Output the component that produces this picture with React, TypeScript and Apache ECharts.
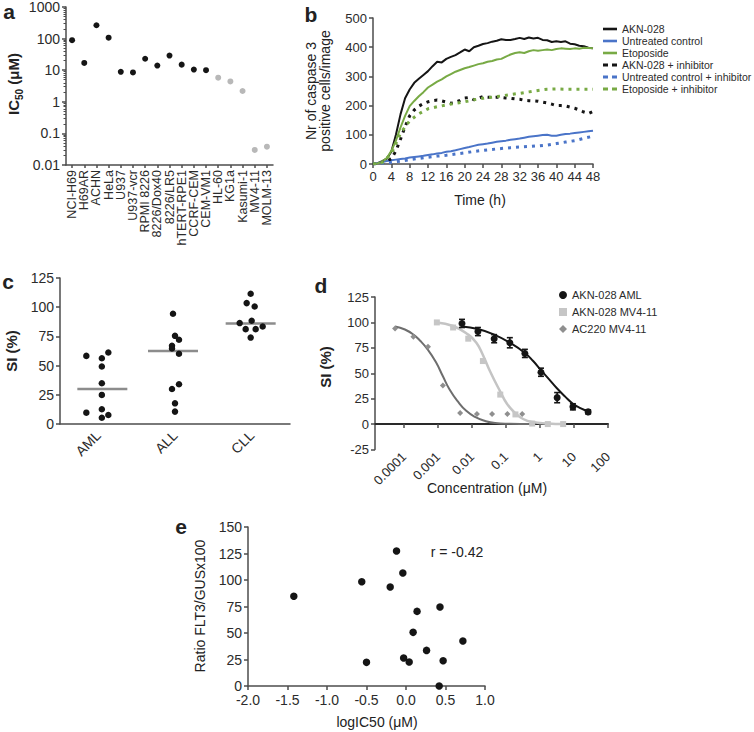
import { useEffect, useRef } from 'react';
import * as echarts from 'echarts';

// ---------- Panel a ----------
const aCells = ['NCI-H69', 'H69AR', 'ACHN', 'HeLa', 'U937', 'U937-vcr', 'RPMI 8226', '8226/Dox40', '8226/LR5', 'hTERT-RPE1', 'CCRF-CEM', 'CEM-VM1', 'HL-60', 'KG1a', 'Kasumi-1', 'MV4-11', 'MOLM-13'];
const aIC50 = [89, 17, 265, 107, 8.9, 8.5, 23, 14, 29, 15, 10.5, 10, 5.8, 4.4, 2.2, 0.03, 0.038];
const aAmlLines = ['HL-60', 'KG1a', 'Kasumi-1', 'MV4-11', 'MOLM-13'];
const aYTickValues = [0.01, 0.1, 1, 10, 100, 1000];
const aYTickLabels = ['0.01', '0.1', '1', '10', '100', '1000'];

// ---------- Panel b ----------
const bHours = [0, 1, 2, 3, 4, 5, 6, 7, 8, 9, 10, 11, 12, 13, 14, 15, 16, 17, 18, 19, 20, 21, 22, 23, 24, 25, 26, 27, 28, 29, 30, 31, 32, 33, 34, 35, 36, 37, 38, 39, 40, 41, 42, 43, 44, 45, 46, 47, 48];
const bHours2 = [0, 2, 4, 6, 8, 10, 12, 14, 16, 18, 20, 22, 24, 26, 28, 30, 32, 34, 36, 38, 40, 42, 44, 46, 48];
const bAkn = [0, 3, 10, 18, 42, 100, 170, 225, 255, 278, 292, 305, 318, 335, 350, 348, 360, 367, 373, 382, 392, 386, 400, 405, 411, 414, 419, 422, 427, 425, 425, 428, 432, 428, 433, 430, 432, 425, 424, 418, 420, 418, 420, 412, 410, 405, 403, 398, 396];
const bUntreated = [0, 3, 7, 10, 13, 15, 17, 19, 22, 24, 26, 28, 31, 33, 36, 38, 42, 44, 47, 51, 55, 58, 62, 66, 68, 70, 73, 76, 78, 80, 83, 85, 87, 90, 93, 95, 97, 99, 100, 97, 97, 100, 103, 104, 106, 108, 110, 112, 114];
const bEtoposide = [0, 2, 8, 20, 45, 80, 125, 165, 198, 216, 232, 246, 262, 272, 282, 290, 300, 308, 316, 322, 328, 332, 337, 342, 345, 350, 353, 358, 360, 368, 375, 380, 383, 380, 386, 390, 388, 390, 392, 390, 394, 396, 395, 394, 396, 395, 398, 397, 396];
const bAknInh = [0, 2, 5, 10, 18, 45, 85, 128, 165, 185, 198, 207, 213, 217, 219, 216, 212, 208, 211, 218, 226, 228, 220, 225, 231, 229, 228, 229, 228, 226, 225, 223, 222, 218, 217, 216, 215, 212, 209, 205, 200, 200, 199, 195, 191, 185, 178, 173, 180];
const bUntreatedInh = [0, 3, 6, 10, 15, 19, 23, 27, 30, 34, 38, 43, 47, 50, 53, 56, 58, 60, 62, 65, 70, 75, 80, 88, 95];
const bEtoposideInh = [0, 5, 35, 105, 148, 172, 189, 196, 202, 208, 213, 220, 225, 229, 233, 238, 242, 247, 252, 256, 257, 256, 256, 256, 256];
const bNames = ['AKN-028', 'Untreated control', 'Etoposide', 'AKN-028 + inhibitor', 'Untreated control + inhibitor', 'Etoposide + inhibitor'];

// ---------- Panel c ----------
const cGroups = ['AML', 'ALL', 'CLL'];
const cAML = [58.3, 61.2, 56.3, 49.2, 34.9, 24.9, 9.7, 12.6, 5.4, 7.7];
const cALL = [94.4, 75.5, 72.1, 66.9, 64.6, 60.1, 30, 34, 17.7, 10.6];
const cCLL = [111.5, 103.5, 100.6, 86.4, 88.4, 83.5, 81.2, 81.2, 74];
const cMedians = [30, 62.5, 86];
// horizontal jitter of the dots (px)
const cAMLJitter = [-12, 10, 3.5, 3.5, 3.5, 3.5, -12, 3.5, 3.5, 10];
const cALLJitter = [-2, 0, 4, -3, -3, 4, -3, 4, 0, 0];
const cCLLJitter = [-1, -5, 3, -12, 0, 11, -6, 4, -1];
const cMedianShift = [4, -2, -1];

// ---------- Panel d ----------
const dTickConc = [0.0001, 0.001, 0.01, 0.1, 1, 10, 100];
const dTickLabels = ['0.0001', '0.001', '0.01', '0.1', '1', '10', '100'];
const dAmlConc = [0.0051, 0.015, 0.045, 0.13, 0.36, 1.07, 3.2, 9.3, 26];
const dAmlSI = [99, 91, 84, 80, 69.5, 51, 26, 17, 12];
const dAmlErr = [4, 4, 4, 5, 4, 4, 5, 3, 2];
const dMvConc = [0.00093, 0.0028, 0.0078, 0.021, 0.068, 0.19, 0.59, 1.7, 4.8];
const dMvSI = [100, 95, 84, 62, 29, 9.5, 0.5, 0, 0];
const dAcConc = [0.000055, 0.00019, 0.00051, 0.0014, 0.0045, 0.014, 0.039, 0.11, 0.3];
const dAcSI = [94, 86, 76, 38, 11, 10, 10, 10, 10];
// fitted curves
const dAmlFitConc = [0.0051, 0.015, 0.045, 0.13, 0.36, 0.63, 1.07, 1.86, 3.2, 5.5, 9.3, 16, 26];
const dAmlFitSI = [96, 93.5, 88, 80, 70, 62, 53, 44, 35, 27, 20, 15.5, 12.5];
const dMvFitConc = [0.00093, 0.0028, 0.0078, 0.0135, 0.021, 0.034, 0.068, 0.107, 0.19, 0.32, 0.59, 1.7, 4.8];
const dMvFitSI = [100, 96.5, 88, 80, 68, 52, 32, 20, 10.5, 5, 2, 0.5, 0];
const dAcFitConc = [0.000055, 0.000107, 0.00019, 0.0003, 0.00051, 0.00087, 0.0014, 0.0022, 0.0039, 0.0068, 0.0123, 0.0245, 0.048, 0.13, 0.51];
const dAcFitSI = [96, 93, 88, 82, 73, 61, 47, 34, 22, 13, 7, 3, 1, 0.3, 0];
const dNames = ['AKN-028 AML', 'AKN-028 MV4-11', 'AC220 MV4-11'];

// ---------- Panel e ----------
const eLogIC50 = [-1.42, -0.56, -0.5, -0.2, -0.12, -0.04, -0.03, 0.04, 0.09, 0.14, 0.26, 0.43, 0.47, 0.42, 0.72];
const eRatio = [84.6, 98.4, 22.3, 93.4, 127.4, 106.6, 26.4, 22.6, 50.6, 70.4, 33.6, 74.5, 23.9, 0, 42.5];
const eCorrelation = 'r = -0.42';

// ---------- styling ----------
const FONT = '"Liberation Sans", Arial, Helvetica, sans-serif';
const AX = '#4d4d4d';
const TX = '#2b2b2b';
const BLACK = '#151515';
const BLUE = '#4a74c8';
const GREEN = '#78aa45';
const ICON_SOLID = 'path://M0,0H14V2.6H0Z';
const ICON_DOTTED = 'path://M0,0H5V3H0Z M9,0H14V3H9Z';

function axis(gridIndex: number, fontSize: number, o: any = {}) {
  const { axisLine = {}, axisTick = {}, axisLabel = {}, ...rest } = o;
  return {
    gridIndex,
    axisLine: { show: true, onZero: false, lineStyle: { color: AX, width: 1.5 }, ...axisLine },
    axisTick: { show: true, length: 4, lineStyle: { color: AX, width: 1.5 }, ...axisTick },
    axisLabel: { color: TX, fontSize, fontFamily: FONT, margin: 6, ...axisLabel },
    splitLine: { show: false },
    ...rest,
  };
}

const lg = (v: number) => Math.log10(v);

const aMinor: number[] = [];
for (let d = -2; d < 3; d++) for (let k = 2; k <= 9; k++) aMinor.push(lg(k) + d);

function txt(x: number, y: number, text: string, size: number, bold = false, rotate = 0, extra: any = {}) {
  return {
    type: 'text', x, y, rotation: rotate,
    style: { text, fontSize: size, fontWeight: bold ? 'bold' : 'normal', fontFamily: FONT, fill: '#222', align: 'center', verticalAlign: 'middle', ...extra },
  };
}

function buildOption() {
  const dotted = [3, 5];
  const bSeries = [
    { name: bNames[0], hours: bHours, vals: bAkn, color: BLACK, dash: 'solid' },
    { name: bNames[1], hours: bHours, vals: bUntreated, color: BLUE, dash: 'solid' },
    { name: bNames[2], hours: bHours, vals: bEtoposide, color: GREEN, dash: 'solid' },
    { name: bNames[3], hours: bHours, vals: bAknInh, color: BLACK, dash: dotted },
    { name: bNames[4], hours: bHours2, vals: bUntreatedInh, color: BLUE, dash: dotted },
    { name: bNames[5], hours: bHours2, vals: bEtoposideInh, color: GREEN, dash: dotted },
  ].map((s) => ({
    name: s.name, type: 'line', xAxisIndex: 1, yAxisIndex: 2, symbol: 'none', showSymbol: false,
    data: s.hours.map((t, i) => [t, s.vals[i]]),
    lineStyle: { color: s.color, width: s.dash === 'solid' ? 2 : 3, type: s.dash, cap: 'butt' },
    itemStyle: { color: s.color },
  }));

  const cPoints = [cAML, cALL, cCLL].map((vals, g) => {
    const jit = [cAMLJitter, cALLJitter, cCLLJitter][g];
    return {
      type: 'scatter', xAxisIndex: 2, yAxisIndex: 3, symbolSize: 6.5, z: 3,
      itemStyle: { color: BLACK, opacity: 1 },
      data: vals.map((v, i) => ({ value: [cGroups[g], v], symbolOffset: [jit[i], 0] })),
    };
  });

  return {
    animation: false,
    backgroundColor: '#fff',
    textStyle: { fontFamily: FONT },
    grid: [
      { left: 66, top: 7, width: 207, height: 158, containLabel: false, outerBoundsMode: 'none' },
      { left: 373, top: 18, width: 220, height: 146, containLabel: false, outerBoundsMode: 'none' },
      { left: 60, top: 278, width: 230, height: 146, containLabel: false, outerBoundsMode: 'none' },
      { left: 375, top: 297, width: 233, height: 152.5, containLabel: false, outerBoundsMode: 'none' },
      { left: 248, top: 527, width: 237, height: 159, containLabel: false, outerBoundsMode: 'none' },
    ],
    xAxis: [
      axis(0, 12.5, {
        type: 'category', data: aCells, boundaryGap: true,
        axisTick: { alignWithLabel: true, length: 3 },
        axisLabel: { rotate: 90, interval: 0, margin: 5 },
      }),
      axis(1, 13, { type: 'value', min: 0, max: 48, interval: 4 }),
      axis(2, 14, {
        type: 'category', data: cGroups, boundaryGap: true,
        axisTick: { show: false }, axisLabel: { rotate: 45, margin: 9 },
      }),
      axis(3, 13, {
        type: 'value', min: -4.85, max: 2,
        axisLine: { onZero: true, lineStyle: { color: '#2a2a2a', width: 2 } },
        axisTick: { customValues: dTickConc.map(lg) },
        axisLabel: {
          rotate: 45, margin: 5, customValues: dTickConc.map(lg),
          formatter: (v: number) => {
            const i = dTickConc.findIndex((c) => Math.abs(lg(c) - v) < 1e-6);
            return i >= 0 ? dTickLabels[i] : '';
          },
        },
      }),
      axis(4, 14, {
        type: 'value', min: -2, max: 1, interval: 0.5,
        axisLabel: { formatter: (v: number) => v.toFixed(1), margin: 7 },
      }),
    ],
    yAxis: [
      axis(0, 14, {
        type: 'value', min: -2, max: 3, interval: 1, position: 'left',
        axisLabel: {
          formatter: (v: number) => {
            const i = aYTickValues.findIndex((c) => Math.abs(lg(c) - v) < 1e-6);
            return i >= 0 ? aYTickLabels[i] : '';
          },
        },
      }),
      axis(0, 14, {
        type: 'value', min: -2, max: 3, position: 'left',
        axisLine: { show: false }, axisLabel: { show: false },
        axisTick: { customValues: aMinor, length: 2.5, lineStyle: { color: AX, width: 1 } },
      }),
      axis(1, 13, { type: 'value', min: 0, max: 500, interval: 100 }),
      axis(2, 14, { type: 'value', min: 0, max: 125, interval: 25 }),
      axis(3, 13, { type: 'value', min: -25, max: 125, interval: 25 }),
      axis(4, 14, { type: 'value', min: 0, max: 150, interval: 25 }),
    ],
    legend: [
      {
        data: bNames.map((n, i) => ({ name: n, icon: i < 3 ? ICON_SOLID : ICON_DOTTED })),
        orient: 'vertical', left: 603, top: 23, padding: 0,
        itemWidth: 14, itemHeight: 12, itemGap: 0, symbolKeepAspect: true,
        textStyle: { fontSize: 10.5, color: TX, fontFamily: FONT, lineHeight: 12 },
      },
      {
        data: [
          { name: dNames[0], icon: 'circle' },
          { name: dNames[1], icon: 'rect' },
          { name: dNames[2], icon: 'diamond' },
        ],
        orient: 'vertical', left: 559, top: 289, padding: 0,
        itemWidth: 8, itemHeight: 8, itemGap: 5,
        textStyle: { fontSize: 11, color: TX, fontFamily: FONT, lineHeight: 12 },
      },
    ],
    series: [
      // a
      {
        type: 'scatter', xAxisIndex: 0, yAxisIndex: 0, symbolSize: 6,
        data: aCells.map((c, i) => ({
          value: [c, lg(aIC50[i])],
          itemStyle: { color: aAmlLines.includes(c) ? '#b8b8b8' : BLACK, opacity: 1 },
        })),
      },
      // b
      ...bSeries,
      // c
      {
        type: 'scatter', xAxisIndex: 2, yAxisIndex: 3, symbol: 'rect', symbolSize: [50, 2.5], z: 2,
        itemStyle: { color: '#8c8c8c', opacity: 1 },
        data: cMedians.map((m, g) => ({ value: [cGroups[g], m], symbolOffset: [cMedianShift[g], 0] })),
      },
      ...cPoints,
      // d curves
      {
        name: 'AC220 fit', type: 'line', xAxisIndex: 3, yAxisIndex: 4, symbol: 'none', smooth: true,
        data: dAcFitConc.map((c, i) => [lg(c), dAcFitSI[i]]), lineStyle: { color: '#6e6e6e', width: 2 },
      },
      {
        name: 'MV4-11 fit', type: 'line', xAxisIndex: 3, yAxisIndex: 4, symbol: 'none', smooth: true,
        data: dMvFitConc.map((c, i) => [lg(c), dMvFitSI[i]]), lineStyle: { color: '#c4c4c4', width: 2.5 },
      },
      {
        name: 'AML fit', type: 'line', xAxisIndex: 3, yAxisIndex: 4, symbol: 'none', smooth: true,
        data: dAmlFitConc.map((c, i) => [lg(c), dAmlFitSI[i]]), lineStyle: { color: BLACK, width: 2 },
      },
      {
        name: 'AML error', type: 'custom', xAxisIndex: 3, yAxisIndex: 4, z: 4,
        encode: { x: 0, y: 1 },
        data: dAmlConc.map((c, i) => [lg(c), dAmlSI[i], dAmlErr[i]]),
        renderItem: (_p: any, api: any) => {
          const x = api.value(0), y = api.value(1), e = api.value(2);
          const t = api.coord([x, y + e]);
          const b = api.coord([x, y - e]);
          const w = 3;
          const st = { stroke: BLACK, lineWidth: 1.6 };
          return {
            type: 'group',
            children: [
              { type: 'line', shape: { x1: t[0], y1: t[1], x2: b[0], y2: b[1] }, style: st },
              { type: 'line', shape: { x1: t[0] - w, y1: t[1], x2: t[0] + w, y2: t[1] }, style: st },
              { type: 'line', shape: { x1: b[0] - w, y1: b[1], x2: b[0] + w, y2: b[1] }, style: st },
            ],
          };
        },
      },
      {
        name: dNames[2], type: 'scatter', xAxisIndex: 3, yAxisIndex: 4, symbol: 'diamond', symbolSize: 6, z: 5,
        itemStyle: { color: '#8f8f8f', opacity: 1 }, data: dAcConc.map((c, i) => [lg(c), dAcSI[i]]),
      },
      {
        name: dNames[1], type: 'scatter', xAxisIndex: 3, yAxisIndex: 4, symbol: 'rect', symbolSize: 6, z: 5,
        itemStyle: { color: '#c6c6c6', opacity: 1 }, data: dMvConc.map((c, i) => [lg(c), dMvSI[i]]),
      },
      {
        name: dNames[0], type: 'scatter', xAxisIndex: 3, yAxisIndex: 4, symbol: 'circle', symbolSize: 7, z: 5,
        itemStyle: { color: BLACK, opacity: 1 }, data: dAmlConc.map((c, i) => [lg(c), dAmlSI[i]]),
      },
      // e
      {
        type: 'scatter', xAxisIndex: 4, yAxisIndex: 5, symbolSize: 7.5,
        itemStyle: { color: BLACK, opacity: 1 }, data: eLogIC50.map((x, i) => [x, eRatio[i]]),
      },
    ],
    graphic: [
      txt(9, 11, 'a', 21, true, 0, { lineHeight: 14 }),
      txt(311, 14, 'b', 21, true, 0, { lineHeight: 16 }),
      txt(8, 281, 'c', 21, true, 0, { lineHeight: 14 }),
      txt(321, 285, 'd', 21, true, 0, { lineHeight: 16 }),
      txt(181, 526, 'e', 21, true, 0, { lineHeight: 14 }),
      {
        type: 'text', x: 13, y: 84, rotation: Math.PI / 2,
        style: {
          text: '{m|IC}{s|50}{m| (μM)}', align: 'center', verticalAlign: 'middle',
          rich: {
            m: { fontSize: 15, fontWeight: 'bold', fontFamily: FONT, fill: '#222', lineHeight: 16, verticalAlign: 'bottom' },
            s: { fontSize: 10, fontWeight: 'bold', fontFamily: FONT, fill: '#222', lineHeight: 10, verticalAlign: 'bottom', padding: [0, 0, -3, 0] },
          },
        },
      },
      txt(318, 91, 'Nr of caspase 3\npositive cells/image', 14, false, Math.PI / 2, { lineHeight: 14 }),
      txt(480, 200, 'Time (h)', 14),
      txt(11, 351, 'SI (%)', 15, true, Math.PI / 2),
      txt(325, 367, 'SI (%)', 15, true, Math.PI / 2),
      txt(487, 488, 'Concentration (μM)', 14),
      txt(200, 606, 'Ratio FLT3/GUSx100', 14, false, Math.PI / 2),
      txt(377, 722, 'logIC50 (μM)', 14),
      txt(457, 552, eCorrelation, 14),
    ],
  };
}

export default function App() {
  const ref = useRef<HTMLDivElement>(null);
  useEffect(() => {
    if (!ref.current) return;
    const chart = echarts.init(ref.current, null, { renderer: 'svg' });
    chart.setOption(buildOption() as any);
    return () => chart.dispose();
  }, []);
  return (
    <div
      ref={ref}
      style={{ position: 'fixed', left: 0, top: 0, width: 754, height: 732, background: '#fff' }}
    />
  );
}
